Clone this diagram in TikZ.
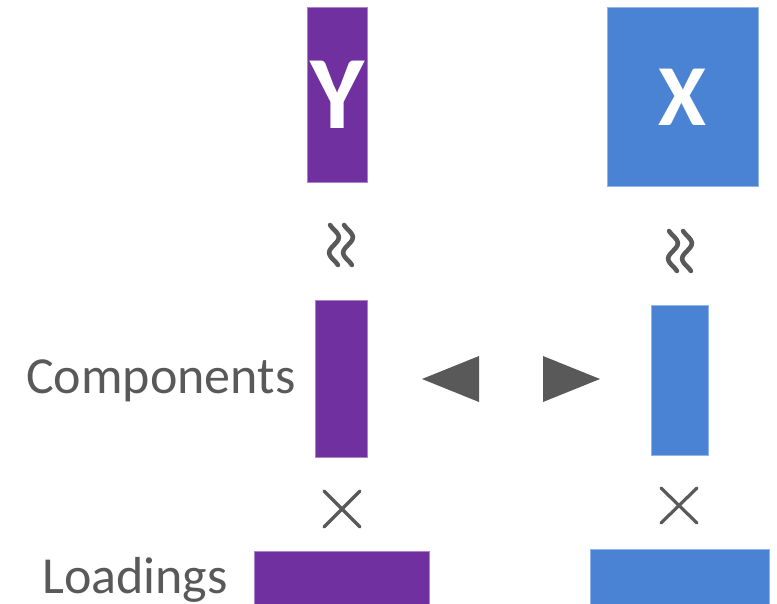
\documentclass[tikz,border=0pt]{standalone}
\usepackage{fontspec}
\setmainfont{Carlito}
\begin{document}
\begin{tikzpicture}[x=1pt,y=-1pt,
  purplebox/.style={rectangle,fill=ypurple,draw=ypurple!60!white,line width=0.6pt,inner sep=0pt,anchor=north west},
  bluebox/.style={rectangle,fill=xblue,draw=xblue!60!white,line width=0.6pt,inner sep=0pt,anchor=north west},
  lbl/.style={text=txtgray,font=\fontsize{52}{52}\selectfont,inner sep=0pt,anchor=base west},
  mat/.style={text=white,inner sep=0pt},
  sym/.style={draw=txtgray,line width=3.2pt,line cap=round},
  wave/.style={draw=txtgray,line width=4.6pt,line cap=round},
  tri/.style={fill=txtgray,draw=none}]
\definecolor{ypurple}{HTML}{7030A0}
\definecolor{xblue}{HTML}{4A83D4}
\definecolor{txtgray}{HTML}{595959}
\useasboundingbox (0,0) rectangle (777,603);

% data blocks
\node[purplebox,minimum width=60pt,minimum height=175pt] (yMat) at (307,7) {};
\node[bluebox,minimum width=151pt,minimum height=179pt] (xMat) at (607,7) {};
\node[mat,font=\bfseries\fontsize{104}{104}\selectfont] at (yMat.center) {Y};
\node[mat,font=\bfseries\fontsize{87}{87}\selectfont] at (xMat.center) {X};

% component columns
\node[purplebox,minimum width=52pt,minimum height=157pt] (yComp) at (315,300) {};
\node[bluebox,minimum width=57pt,minimum height=150pt] (xComp) at (651,305) {};

% loading rows
\node[purplebox,minimum width=175pt,minimum height=60pt] (yLoad) at (254,551) {};
\node[bluebox,minimum width=179pt,minimum height=62pt] (xLoad) at (590,549) {};

% labels
\node[lbl] (compLbl) at (26,393) {Components};
\node[lbl] (loadLbl) at (42,593) {Loadings};

% approximately-equal marks (two vertical wavy strokes each)
\foreach \cx/\cy in {341/245, 680/251}{
  \foreach \dx in {-7,7}{
    \draw[wave] plot[domain=-0.15:1.15,samples=40,smooth]
      ({\cx+\dx+4.8*sin(360*\x)}, {\cy-20+40*(\x+0.15)/1.3});
  }
}

% multiplication marks
\draw[sym] (324,491) -- (360,527);
\draw[sym] (324,527) -- (360,491);
\draw[sym] (661,488) -- (697,523);
\draw[sym] (661,523) -- (697,488);

% correlation arrowheads between the component columns
\fill[tri] (479,356) -- (422,379) -- (479,402) -- cycle;
\fill[tri] (543,356) -- (600,379) -- (543,402) -- cycle;
\end{tikzpicture}
\end{document}
